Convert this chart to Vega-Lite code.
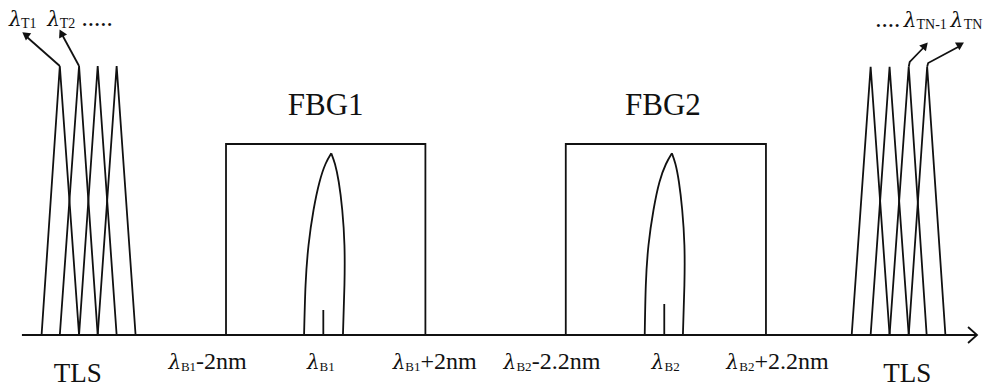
{
  "$schema": "https://vega.github.io/schema/vega-lite/v6.json",
  "width": 983,
  "height": 391,
  "padding": 0,
  "autosize": {"type": "fit", "contains": "padding"},
  "background": "white",
  "config": {"view": {"stroke": null}},
  "datasets": {
    "lines": [
      {"g": "axis", "o": 1, "x": 22, "y": 335}, {"g": "axis", "o": 2, "x": 980, "y": 335},
      {"g": "axhead", "o": 1, "x": 971, "y": 327}, {"g": "axhead", "o": 2, "x": 980, "y": 335}, {"g": "axhead", "o": 3, "x": 971, "y": 343},
      {"g": "L1", "o": 1, "x": 41.7, "y": 335}, {"g": "L1", "o": 2, "x": 60, "y": 66}, {"g": "L1", "o": 3, "x": 79.3, "y": 335},
      {"g": "L2", "o": 1, "x": 60, "y": 335}, {"g": "L2", "o": 2, "x": 79.3, "y": 66}, {"g": "L2", "o": 3, "x": 98, "y": 335},
      {"g": "L3", "o": 1, "x": 79.3, "y": 335}, {"g": "L3", "o": 2, "x": 98, "y": 66}, {"g": "L3", "o": 3, "x": 117, "y": 335},
      {"g": "L4", "o": 1, "x": 98, "y": 335}, {"g": "L4", "o": 2, "x": 117, "y": 66}, {"g": "L4", "o": 3, "x": 136, "y": 335},
      {"g": "R1", "o": 1, "x": 854.3, "y": 335}, {"g": "R1", "o": 2, "x": 873.3, "y": 66.7}, {"g": "R1", "o": 3, "x": 892.3, "y": 335},
      {"g": "R2", "o": 1, "x": 873.3, "y": 335}, {"g": "R2", "o": 2, "x": 892.3, "y": 66.7}, {"g": "R2", "o": 3, "x": 911.5, "y": 335},
      {"g": "R3", "o": 1, "x": 892.3, "y": 335}, {"g": "R3", "o": 2, "x": 911.5, "y": 66.7}, {"g": "R3", "o": 3, "x": 929.5, "y": 335},
      {"g": "R4", "o": 1, "x": 911.5, "y": 335}, {"g": "R4", "o": 2, "x": 930, "y": 66.7}, {"g": "R4", "o": 3, "x": 948.3, "y": 335},
      {"g": "box1", "o": 1, "x": 226.7, "y": 335}, {"g": "box1", "o": 2, "x": 226.7, "y": 144}, {"g": "box1", "o": 3, "x": 426.7, "y": 144}, {"g": "box1", "o": 4, "x": 426.7, "y": 335},
      {"g": "box2", "o": 1, "x": 567.5, "y": 335}, {"g": "box2", "o": 2, "x": 567.5, "y": 144}, {"g": "box2", "o": 3, "x": 768.3, "y": 144}, {"g": "box2", "o": 4, "x": 768.3, "y": 335},
      {"g": "c1", "o": 1, "x": 324.3, "y": 335}, {"g": "c1", "o": 2, "x": 324.3, "y": 310},
      {"g": "c2", "o": 1, "x": 666.3, "y": 335}, {"g": "c2", "o": 2, "x": 666.3, "y": 304},
      {"g": "a1", "o": 1, "x": 60, "y": 66}, {"g": "a1", "o": 2, "x": 27, "y": 37},
      {"g": "a2", "o": 1, "x": 79.3, "y": 66}, {"g": "a2", "o": 2, "x": 63, "y": 36},
      {"g": "a3", "o": 1, "x": 911.5, "y": 66.7}, {"g": "a3", "o": 2, "x": 912.5, "y": 62}, {"g": "a3", "o": 3, "x": 926, "y": 48},
      {"g": "a4", "o": 1, "x": 930, "y": 66.7}, {"g": "a4", "o": 2, "x": 931, "y": 63}, {"g": "a4", "o": 3, "x": 961, "y": 47}
    ],
    "curves": [
      {"g": "f1l", "o": 1, "x": 305, "y": 335}, {"g": "f1l", "o": 2, "x": 306.5, "y": 285}, {"g": "f1l", "o": 3, "x": 309.5, "y": 245}, {"g": "f1l", "o": 4, "x": 314.5, "y": 210}, {"g": "f1l", "o": 5, "x": 320.5, "y": 182}, {"g": "f1l", "o": 6, "x": 326.5, "y": 164}, {"g": "f1l", "o": 7, "x": 332.3, "y": 153.3},
      {"g": "f1r", "o": 1, "x": 344, "y": 335}, {"g": "f1r", "o": 2, "x": 345.5, "y": 285}, {"g": "f1r", "o": 3, "x": 345.5, "y": 245}, {"g": "f1r", "o": 4, "x": 343.3, "y": 210}, {"g": "f1r", "o": 5, "x": 339.8, "y": 182}, {"g": "f1r", "o": 6, "x": 336, "y": 164}, {"g": "f1r", "o": 7, "x": 332.3, "y": 153.3},
      {"g": "f2l", "o": 1, "x": 646.7, "y": 335}, {"g": "f2l", "o": 2, "x": 647.8, "y": 285}, {"g": "f2l", "o": 3, "x": 650.5, "y": 245}, {"g": "f2l", "o": 4, "x": 655.5, "y": 210}, {"g": "f2l", "o": 5, "x": 661.5, "y": 182}, {"g": "f2l", "o": 6, "x": 668, "y": 164}, {"g": "f2l", "o": 7, "x": 674, "y": 153.3},
      {"g": "f2r", "o": 1, "x": 685, "y": 335}, {"g": "f2r", "o": 2, "x": 686.5, "y": 285}, {"g": "f2r", "o": 3, "x": 686.5, "y": 245}, {"g": "f2r", "o": 4, "x": 684.3, "y": 210}, {"g": "f2r", "o": 5, "x": 681, "y": 182}, {"g": "f2r", "o": 6, "x": 677.5, "y": 164}, {"g": "f2r", "o": 7, "x": 674, "y": 153.3}
    ],
    "big": [
      {"t": "FBG1", "x": 326.7, "y": 115},
      {"t": "FBG2", "x": 665, "y": 115}
    ],
    "tls": [
      {"t": "TLS", "x": 78, "y": 381.7},
      {"t": "TLS", "x": 910, "y": 381.7}
    ],
    "lam": [
      {"x": 169, "y": 369}, {"x": 308, "y": 369}, {"x": 394, "y": 369},
      {"x": 505, "y": 369}, {"x": 653.5, "y": 369}, {"x": 728.5, "y": 369},
      {"x": 9, "y": 25.5}, {"x": 47.5, "y": 25.5}, {"x": 906.5, "y": 26.5}, {"x": 953.5, "y": 26.5}
    ],
    "sub": [
      {"t": "B1", "x": 181.5, "y": 370.5}, {"t": "B1", "x": 320.5, "y": 370.5}, {"t": "B1", "x": 406.5, "y": 370.5},
      {"t": "B2", "x": 518, "y": 370.5}, {"t": "B2", "x": 666.5, "y": 370.5}, {"t": "B2", "x": 741.5, "y": 370.5}
    ],
    "subtop": [
      {"t": "T1", "x": 21, "y": 28}, {"t": "T2", "x": 60, "y": 28},
      {"t": "TN-1", "x": 919.3, "y": 28.5}, {"t": "TN", "x": 966.7, "y": 28.5}
    ],
    "suf": [
      {"t": "-2nm", "x": 196.5, "y": 369},
      {"t": "+2nm", "x": 421.7, "y": 369},
      {"t": "-2.2nm", "x": 533.3, "y": 369},
      {"t": "+2.2nm", "x": 756.7, "y": 369}
    ],
    "dots": [
      {"t": ".....", "x": 81.7, "y": 25.5},
      {"t": "....", "x": 878, "y": 26.5}
    ],
    "head1": [{"x": 25.5, "y": 34.5}],
    "head2": [{"x": 61.5, "y": 33}],
    "head3": [{"x": 928, "y": 45.5}],
    "head4": [{"x": 963.5, "y": 44.5}]
  },
  "encoding": {
    "x": {"field": "x", "type": "quantitative", "scale": {"domain": [0, 983], "nice": false, "zero": false}, "axis": null},
    "y": {"field": "y", "type": "quantitative", "scale": {"domain": [0, 391], "nice": false, "zero": false, "reverse": true}, "axis": null}
  },
  "layer": [
    {
      "data": {"name": "lines"},
      "mark": {"type": "line", "color": "#111", "strokeWidth": 1.8, "strokeJoin": "miter", "clip": false},
      "encoding": {"detail": {"field": "g"}, "order": {"field": "o", "type": "quantitative"}}
    },
    {
      "data": {"name": "curves"},
      "mark": {"type": "line", "color": "#111", "strokeWidth": 1.8, "interpolate": "natural"},
      "encoding": {"detail": {"field": "g"}, "order": {"field": "o", "type": "quantitative"}}
    },
    {"data": {"name": "head1"}, "mark": {"type": "point", "shape": "triangle-up", "filled": true, "color": "#111", "opacity": 1, "size": 80, "angle": 306}},
    {"data": {"name": "head2"}, "mark": {"type": "point", "shape": "triangle-up", "filled": true, "color": "#111", "opacity": 1, "size": 80, "angle": 333}},
    {"data": {"name": "head3"}, "mark": {"type": "point", "shape": "triangle-up", "filled": true, "color": "#111", "opacity": 1, "size": 80, "angle": 42}},
    {"data": {"name": "head4"}, "mark": {"type": "point", "shape": "triangle-up", "filled": true, "color": "#111", "opacity": 1, "size": 80, "angle": 60}},
    {
      "data": {"name": "big"},
      "mark": {"type": "text", "font": "Liberation Serif", "fontSize": 31, "align": "center", "baseline": "alphabetic", "color": "#111"},
      "encoding": {"text": {"field": "t"}}
    },
    {
      "data": {"name": "tls"},
      "mark": {"type": "text", "font": "Liberation Serif", "fontSize": 27, "align": "center", "baseline": "alphabetic", "color": "#111"},
      "encoding": {"text": {"field": "t"}}
    },
    {
      "data": {"name": "lam"},
      "mark": {"type": "text", "font": "DejaVu Serif", "fontStyle": "italic", "fontSize": 20, "align": "left", "baseline": "alphabetic", "color": "#111", "text": "λ"}
    },
    {
      "data": {"name": "sub"},
      "mark": {"type": "text", "font": "Liberation Serif", "fontSize": 13, "align": "left", "baseline": "alphabetic", "color": "#111"},
      "encoding": {"text": {"field": "t"}}
    },
    {
      "data": {"name": "subtop"},
      "mark": {"type": "text", "font": "Liberation Serif", "fontSize": 14, "align": "left", "baseline": "alphabetic", "color": "#111"},
      "encoding": {"text": {"field": "t"}}
    },
    {
      "data": {"name": "suf"},
      "mark": {"type": "text", "font": "Liberation Serif", "fontSize": 24, "align": "left", "baseline": "alphabetic", "color": "#111"},
      "encoding": {"text": {"field": "t"}}
    },
    {
      "data": {"name": "dots"},
      "mark": {"type": "text", "font": "Liberation Serif", "fontSize": 25, "align": "left", "baseline": "alphabetic", "color": "#111"},
      "encoding": {"text": {"field": "t"}}
    }
  ]
}
